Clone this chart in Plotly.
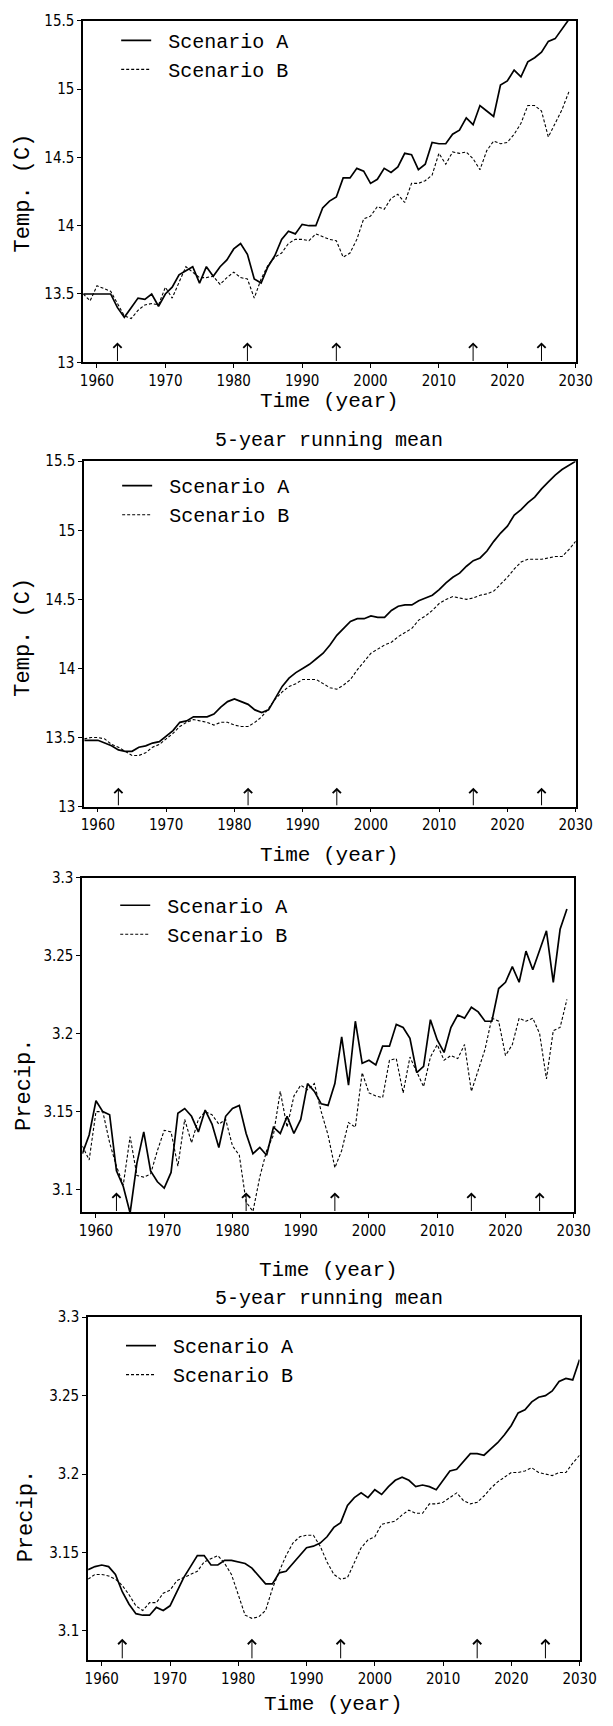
import plotly.graph_objects as go

years = list(range(1958, 2030))          # annual series 1958-2029
years_rm = list(range(1958, 2031))       # running-mean series 1958-2030
event_years = [1963, 1982, 1995, 2015, 2025]

temp_a = [13.50, 13.50, 13.50, 13.50, 13.50, 13.40, 13.33, 13.40, 13.47, 13.46,
          13.50, 13.41, 13.50, 13.55, 13.64, 13.67, 13.70, 13.58, 13.70, 13.63,
          13.70, 13.75, 13.83, 13.87, 13.79, 13.61, 13.58, 13.70, 13.78, 13.90,
          13.96, 13.94, 14.01, 14.00, 14.00, 14.13, 14.18, 14.21, 14.35, 14.35,
          14.42, 14.40, 14.31, 14.34, 14.42, 14.39, 14.43, 14.53, 14.52, 14.41,
          14.45, 14.61, 14.60, 14.60, 14.67, 14.70, 14.79, 14.74, 14.88, 14.84,
          14.80, 15.03, 15.06, 15.14, 15.09, 15.20, 15.23, 15.27, 15.35, 15.37,
          15.44, 15.51]
temp_b = [13.50, 13.45, 13.56, 13.54, 13.52, 13.43, 13.34, 13.32, 13.38, 13.42,
          13.43, 13.42, 13.55, 13.47, 13.58, 13.70, 13.66, 13.62, 13.62, 13.63,
          13.57, 13.62, 13.66, 13.62, 13.61, 13.47, 13.61, 13.71, 13.77, 13.80,
          13.87, 13.90, 13.90, 13.89, 13.94, 13.92, 13.90, 13.89, 13.77, 13.80,
          13.90, 14.05, 14.07, 14.14, 14.12, 14.20, 14.23, 14.17, 14.31, 14.31,
          14.33, 14.37, 14.53, 14.45, 14.54, 14.53, 14.54, 14.49, 14.41, 14.55,
          14.62, 14.60, 14.61, 14.67, 14.75, 14.88, 14.88, 14.84, 14.65, 14.75,
          14.85, 14.98]

temp_rm_a = [13.48, 13.48, 13.48, 13.46, 13.44, 13.41, 13.40, 13.40, 13.43, 13.44,
             13.46, 13.47, 13.51, 13.55, 13.61, 13.62, 13.65, 13.65, 13.65, 13.67,
             13.72, 13.76, 13.78, 13.76, 13.74, 13.70, 13.68, 13.70, 13.78, 13.87,
             13.93, 13.97, 14.00, 14.03, 14.07, 14.11, 14.17, 14.24, 14.29, 14.34,
             14.36, 14.36, 14.38, 14.37, 14.37, 14.42, 14.45, 14.46, 14.46, 14.49,
             14.51, 14.53, 14.57, 14.62, 14.66, 14.69, 14.74, 14.78, 14.80, 14.85,
             14.92, 14.98, 15.03, 15.11, 15.15, 15.20, 15.24, 15.30, 15.35, 15.40,
             15.44, 15.47, 15.50]
temp_rm_b = [13.49, 13.50, 13.50, 13.49, 13.45, 13.43, 13.40, 13.37, 13.37, 13.39,
             13.43, 13.45, 13.49, 13.53, 13.58, 13.61, 13.63, 13.62, 13.61, 13.59,
             13.61, 13.61, 13.59, 13.58, 13.58, 13.61, 13.65, 13.71, 13.78, 13.83,
             13.87, 13.89, 13.92, 13.92, 13.92, 13.89, 13.86, 13.85, 13.88, 13.92,
             13.99, 14.05, 14.11, 14.14, 14.17, 14.19, 14.23, 14.26, 14.29, 14.35,
             14.38, 14.42, 14.47, 14.50, 14.52, 14.51, 14.50, 14.51, 14.53, 14.54,
             14.56, 14.61, 14.66, 14.72, 14.77, 14.79, 14.79, 14.79, 14.80, 14.81,
             14.81, 14.86, 14.92]

prec_a = [3.123, 3.135, 3.157, 3.150, 3.148, 3.112, 3.102, 3.085, 3.117, 3.137,
          3.112, 3.105, 3.101, 3.111, 3.149, 3.152, 3.147, 3.137, 3.151, 3.142,
          3.127, 3.147, 3.152, 3.154, 3.136, 3.123, 3.127, 3.122, 3.140, 3.136,
          3.147, 3.136, 3.145, 3.168, 3.163, 3.155, 3.154, 3.168, 3.198, 3.167,
          3.208, 3.181, 3.183, 3.180, 3.192, 3.192, 3.206, 3.204, 3.197, 3.175,
          3.179, 3.209, 3.196, 3.188, 3.204, 3.212, 3.210, 3.217, 3.214, 3.208,
          3.208, 3.229, 3.233, 3.243, 3.233, 3.253, 3.241, 3.253, 3.266, 3.233,
          3.267, 3.280]
prec_b = [3.128, 3.119, 3.150, 3.150, 3.130, 3.115, 3.103, 3.134, 3.109, 3.108,
          3.110, 3.125, 3.138, 3.137, 3.115, 3.145, 3.130, 3.145, 3.150, 3.148,
          3.142, 3.145, 3.128, 3.122, 3.092, 3.086, 3.108, 3.125, 3.135, 3.163,
          3.140, 3.160, 3.167, 3.164, 3.168, 3.150, 3.135, 3.114, 3.125, 3.143,
          3.140, 3.175, 3.162, 3.160, 3.159, 3.183, 3.184, 3.162, 3.185, 3.175,
          3.166, 3.185, 3.193, 3.183, 3.186, 3.184, 3.193, 3.163, 3.177, 3.190,
          3.210, 3.208, 3.186, 3.193, 3.210, 3.208, 3.210, 3.200, 3.171, 3.202,
          3.204, 3.222]

prec_rm_a = [3.139, 3.141, 3.142, 3.141, 3.136, 3.125, 3.117, 3.111, 3.110, 3.110,
             3.115, 3.113, 3.116, 3.125, 3.134, 3.141, 3.148, 3.148, 3.142, 3.142,
             3.145, 3.145, 3.144, 3.143, 3.140, 3.135, 3.130, 3.130, 3.137, 3.138,
             3.143, 3.148, 3.153, 3.154, 3.156, 3.160, 3.166, 3.169, 3.180, 3.185,
             3.188, 3.185, 3.190, 3.187, 3.192, 3.196, 3.198, 3.196, 3.192, 3.193,
             3.192, 3.190, 3.196, 3.202, 3.203, 3.208, 3.213, 3.213, 3.212, 3.216,
             3.220, 3.225, 3.231, 3.239, 3.241, 3.246, 3.249, 3.250, 3.253, 3.259,
             3.261, 3.260, 3.273]
prec_rm_b = [3.133, 3.136, 3.136, 3.135, 3.133, 3.129, 3.123, 3.116, 3.113, 3.118,
             3.118, 3.124, 3.126, 3.132, 3.134, 3.136, 3.138, 3.144, 3.146, 3.148,
             3.143, 3.136, 3.123, 3.110, 3.108, 3.109, 3.113, 3.127, 3.138, 3.148,
             3.156, 3.160, 3.161, 3.161, 3.154, 3.144, 3.136, 3.133, 3.134, 3.144,
             3.153, 3.158, 3.160, 3.168, 3.169, 3.170, 3.174, 3.177, 3.175, 3.175,
             3.181, 3.181, 3.182, 3.185, 3.188, 3.183, 3.181, 3.182, 3.186, 3.191,
             3.195, 3.198, 3.201, 3.201, 3.202, 3.204, 3.201, 3.200, 3.199, 3.201,
             3.201, 3.207, 3.212]

temp_ticks = [13, 13.5, 14, 14.5, 15, 15.5]
temp_ticktext = ["13", "13.5", "14", "14.5", "15", "15.5"]
prec_ticks = [3.1, 3.15, 3.2, 3.25, 3.3]
prec_ticktext = ["3.1", "3.15", "3.2", "3.25", "3.3"]
year_ticks = [1960, 1970, 1980, 1990, 2000, 2010, 2020, 2030]
legend_names = ["Scenario A", "Scenario B"]

W, H = 613, 1726
TICKFONT = dict(family="DejaVu Sans Condensed, Liberation Sans Narrow, DejaVu Sans, sans-serif",
                size=15, color="black")
MONO = "Liberation Mono, DejaVu Sans Mono, monospace"

# panel pixel boxes: (left, right, top, bottom)
boxes = [(83, 592, 12, 357), (84, 592, 457, 806), (82, 590, 878, 1216), (88, 596, 1322, 1668)]
yranges = [[13, 15.5], [13, 15.5], [3.0854, 3.3], [3.0817, 3.3]]
series = [(years, temp_a, temp_b), (years_rm, temp_rm_a, temp_rm_b),
          (years, prec_a, prec_b), (years_rm, prec_rm_a, prec_rm_b)]
ylabels = ["Temp. (C)", "Temp. (C)", "Precip.", "Precip."]
ylabel_pos = [(21, 186), (21, 635), (22, 1087), (24, 1523)]
xlabel_y = [397, 855, 1275, 1713]
legend_top = [12, 462, 886, 1331]
arrow_len = [20, 19, 20, 21]

fig = go.Figure()
layout = dict(width=W, height=H, margin=dict(l=0, r=0, t=0, b=0),
              paper_bgcolor="white", plot_bgcolor="white", showlegend=True)
annotations = []

for i, (box, yr, (xs, a, b)) in enumerate(zip(boxes, yranges, series)):
    n = "" if i == 0 else str(i + 1)
    L, R, T, B = box
    leg = "legend" if i == 0 else f"legend{i+1}"
    fig.add_trace(go.Scatter(x=xs, y=a, mode="lines", name="\u00a0" + legend_names[0],
                             line=dict(color="black", width=1.7),
                             xaxis="x" + n, yaxis="y" + n, legend=leg))
    fig.add_trace(go.Scatter(x=xs, y=b, mode="lines", name="\u00a0" + legend_names[1],
                             line=dict(color="black", width=1.1, dash="3px,2px"),
                             xaxis="x" + n, yaxis="y" + n, legend=leg))
    layout["xaxis" + n] = dict(domain=[L / W, R / W], range=[1958, 2030],
                               anchor="y" + n, tickvals=year_ticks,
                               ticks="outside", ticklen=4, tickwidth=1.2,
                               tickcolor="black", showline=True, linecolor="black",
                               linewidth=1.8, mirror=True, showgrid=False,
                               zeroline=False, tickfont=TICKFONT)
    tv, tt = (temp_ticks, temp_ticktext) if i < 2 else (prec_ticks, prec_ticktext)
    layout["yaxis" + n] = dict(domain=[1 - B / H, 1 - T / H], range=yr,
                               anchor="x" + n, tickvals=tv, ticktext=tt,
                               ticks="outside", ticklen=4, tickwidth=1.2,
                               tickcolor="black", showline=True, linecolor="black",
                               linewidth=1.8, mirror=True, showgrid=False,
                               zeroline=False, tickfont=TICKFONT)
    layout[leg] = dict(x=(L + 34) / W, y=1 - legend_top[i] / H, xanchor="left",
                       yanchor="top", bgcolor="rgba(0,0,0,0)", borderwidth=0,
                       font=dict(family=MONO, size=20, color="black"),
                       itemwidth=30, tracegroupgap=0)
    # y-axis title
    annotations.append(dict(text=ylabels[i], x=ylabel_pos[i][0] / W,
                            y=1 - ylabel_pos[i][1] / H, xref="paper", yref="paper",
                            showarrow=False, textangle=-90,
                            font=dict(family=MONO, size=22, color="black"),
                            xanchor="center", yanchor="middle"))
    # x-axis title
    annotations.append(dict(text="Time (year)", x=(L + R) / 2 / W,
                            y=1 - xlabel_y[i] / H, xref="paper", yref="paper",
                            showarrow=False,
                            font=dict(family=MONO, size=21, color="black"),
                            xanchor="center", yanchor="middle"))
    # event arrows
    hpx = B - T
    for ey in event_years:
        annotations.append(dict(text="", x=ey, y=arrow_len[i] / hpx,
                                xref="x" + n, yref=f"y{n} domain",
                                ax=0, ay=arrow_len[i], axref="pixel", ayref="pixel",
                                showarrow=True, arrowhead=4, arrowsize=1.6,
                                arrowwidth=1, arrowcolor="black"))

for ty in [436, 1303]:
    annotations.append(dict(text="5-year running mean", x=337 / W, y=1 - ty / H,
                            xref="paper", yref="paper", showarrow=False,
                            font=dict(family=MONO, size=20, color="black"),
                            xanchor="center", yanchor="middle"))

layout["annotations"] = annotations
fig.update_layout(**layout)
fig.write_html("out.html")
